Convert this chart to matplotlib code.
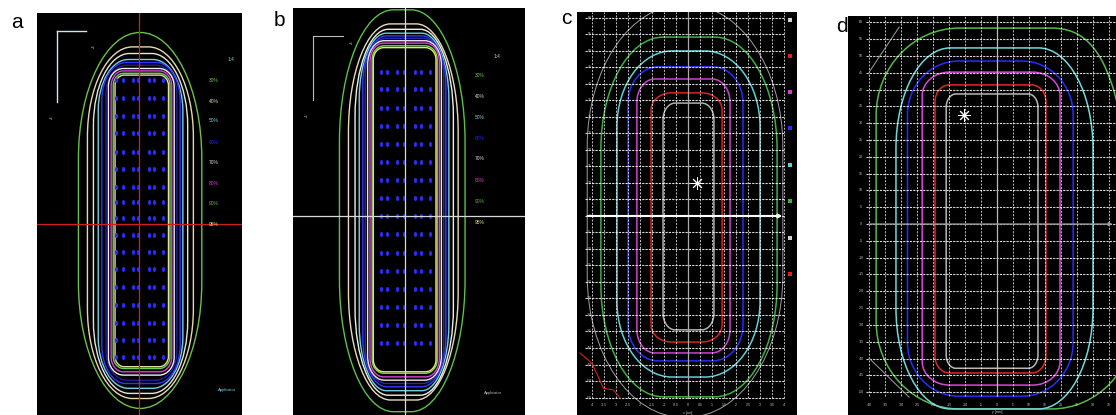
import matplotlib
matplotlib.use("Agg")
import matplotlib.pyplot as plt
from matplotlib.patches import PathPatch
from matplotlib.path import Path
from matplotlib.transforms import Affine2D

plt.rcParams['font.family'] = ['Liberation Sans', 'DejaVu Sans']

# ---------------- panel a : planned isodoses (mm) ----------------
a_left = [-20.2, -17.2, -15.2, -13.6, -12.4, -11.0, -10.2, -9.3, -8.6, -8.0]
a_right = [20.9, 18.1, 16.2, 14.6, 13.7, 12.6, 11.7, 10.9, 10.3, 9.8]
a_bottom = [-62.1, -58.8, -57.1, -55.4, -53.8, -52.7, -51.0, -49.9, -48.8, -48.2]
a_top = [63.2, 58.4, 56.2, 54.2, 53.2, 52.3, 51.2, 50.4, 49.6, 49.0]
a_rx = [20.5, 15, 12, 10, 8, 7, 5, 4, 3.5, 3]
a_ry = [42, 30, 24, 17, 12.7, 9.5, 6, 5, 4, 3.5]
a_colors = ['#6cc04a', '#e8d8b0', '#e6e6d8', '#6fd3e0', '#3333ff',
            '#2020a0', '#f0f0f0', '#e040e0', '#70d050', '#e0e0a0']
a_dot_x = [-7.7, -5.3, -2.0, -0.3, 3.3, 5.0, 8.0]
a_dot_y = [47.3, 41.3, 35.3, 29.7, 23.3, 17.7, 11.7, 6.7, 1.3, -4.3,
           -10.0, -15.7, -21.7, -27.7, -33.7, -39.3, -45.0]
a_leg_y = [47.3, 40.3, 33.7, 26.7, 19.7, 13.0, 6.3, -0.7]

# ---------------- panel b ----------------
b_left = [-21.2, -18.2, -16.0, -14.6, -13.4, -12.6, -11.8, -11.0, -10.3, -9.9]
b_right = [20.7, 18.4, 16.8, 15.3, 14.3, 13.6, 12.8, 12.1, 11.4, 11.0]
b_bottom = [-66.2, -62.3, -60.7, -59.2, -57.9, -56.8, -55.7, -54.6, -53.4, -52.9]
b_top = [67.7, 63.0, 61.2, 59.9, 59.0, 58.2, 57.4, 56.6, 55.7, 55.1]
b_rx = [18, 14, 11, 9, 8, 7, 5.5, 4.5, 4, 3.5]
b_ry = [44, 36, 29, 22, 16, 12, 8, 6, 4.5, 4]
b_colors = ['#5cc04a', '#e8dcb8', '#f0f0e8', '#70d0e0', '#3838ff',
            '#2828b0', '#e8e8e8', '#e040e0', '#70e040', '#e8e870']
b_dot_x = [-7.3, -5.3, -2.0, 0.3, 4.0, 6.0, 9.0]
b_dot_y = [47.1, 41.2, 35.1, 29.0, 23.0, 16.9, 11.0, 4.9, -1.0, -7.1,
           -13.2, -19.2, -25.3, -31.4, -37.3, -43.4]
b_leg_y = [45.7, 38.7, 31.7, 24.7, 18.0, 10.7, 3.7, -3.0]

leg_labels = ['30%', '40%', '50%', '60%', '70%', '80%', '90%', '95%']
leg_colors = ['#6ad04a', '#e0d8b0', '#80d0d8', '#2a2aff',
              '#e0e0e0', '#e040e0', '#60c040', '#e0e080']

# ---------------- panel c : measured (x in cm, y in mm) ----------------
c_left = [-3.63, -2.96, -2.50, -2.13, -1.54, -1.04]
c_right = [3.71, 3.00, 2.29, 1.75, 1.42, 1.08]
c_bottom = [-54.8, -48.8, -43.9, -41.5, -38.2, -34.5]
c_top = [54.2, 50.0, 45.2, 41.5, 37.3, 34.2]
c_rx = [2.6, 2.3, 1.25, 0.75, 0.85, 0.5]
c_ry = [34, 23, 11, 7, 5.2, 5]
iso_colors = ['#3cb043', '#5fd0d8', '#2a2aff', '#d040d0', '#e02020', '#b0b0b0']
c_outer = [-4.2, 3.95, -61.0, 64.0, 4.0, 43.0]
c_red_x = [-4.5, -4.01, -3.74, -3.53, -3.11, -2.83]
c_red_y = [-41.5, -44.6, -48.7, -52.2, -52.7, -55.2]
c_xticks = [-4, -3.5, -3, -2.5, -2, -1.5, -1, -0.5, 0, 0.5, 1, 1.5, 2, 2.5, 3, 3.5, 4]
c_yticks = [60, 55, 50, 45, 40, 35, 30, 25, 20, 15, 10, 5, 0,
            -5, -10, -15, -20, -25, -30, -35, -40, -45, -50, -55]
c_leg_y = [59.4, 48.5, 37.6, 26.7, 15.5, 4.5, -6.7, -17.6]
c_leg_colors = ['#d0d0d0', '#e02020', '#d040d0', '#2a2aff',
                '#5fd0d8', '#3cb043', '#d0d0d0', '#e02020']
c_star = (0.375, 10.0)

# ---------------- panel d : measured (mm) ----------------
d_left = [-37.8, -31.6, -28.0, -23.4, -19.4, -15.9]
d_right = [43.0, 30.0, 23.8, 19.7, 15.3, 12.8]
d_bottom = [-55.0, -55.0, -51.2, -47.9, -44.3, -42.9]
d_top = [58.3, 52.4, 48.5, 45.2, 41.4, 38.7]
d_rx = [26, 17, 16, 8.5, 4.5, 3]
d_ry = [26, 30, 16, 7, 5, 4]
d_colors = ['#58b84a', '#70d8d8', '#2a2aff', '#d848d8', '#e02828', '#b8b8b8']
d_gray1_x = [-40.0, -30.6]
d_gray1_y = [45.2, 58.6]
d_gray2_x = [-40.0, -27.5]
d_gray2_y = [-39.9, -51.5]
d_xticks = [-40, -35, -30, -25, -20, -15, -10, -5, 0, 5, 10, 15, 20, 25, 30, 35]
d_yticks = [60, 55, 50, 45, 40, 35, 30, 25, 20, 15, 10, 5, 0,
            -5, -10, -15, -20, -25, -30, -35, -40, -45, -50]
d_star = (-10.3, 32.4)

K = 0.5523  # cubic bezier factor for a quarter ellipse


def panel(rect, xlim, ylim):
    ax = fig.add_axes(rect)
    ax.set_facecolor('black')
    ax.set_xlim(*xlim)
    ax.set_ylim(*ylim)
    ax.set_xticks([])
    ax.set_yticks([])
    for s in ax.spines.values():
        s.set_visible(False)
    return ax


def box_path(l, r, b, t, rx, ry):
    # rectangle with quarter-ellipse corners
    verts = [(l + rx, b), (r - rx, b),
             (r - rx + K * rx, b), (r, b + ry - K * ry), (r, b + ry),
             (r, t - ry),
             (r, t - ry + K * ry), (r - rx + K * rx, t), (r - rx, t),
             (l + rx, t),
             (l + rx - K * rx, t), (l, t - ry + K * ry), (l, t - ry),
             (l, b + ry),
             (l, b + ry - K * ry), (l + rx - K * rx, b), (l + rx, b),
             (l + rx, b)]
    C, L = Path.CURVE4, Path.LINETO
    codes = [Path.MOVETO, L, C, C, C, L, C, C, C, L, C, C, C, L, C, C, C, Path.CLOSEPOLY]
    return Path(verts, codes)


def isodose(ax, left, right, bottom, top, rx, ry, colors, lw):
    for l, r, b, t, cx, cy, c in zip(left, right, bottom, top, rx, ry, colors):
        ax.add_patch(PathPatch(box_path(l, r, b, t, cx, cy), fill=False, ec=c, lw=lw))


dot = Path.unit_circle().transformed(Affine2D().scale(0.6, 1.0))

fig = plt.figure(figsize=(11.16, 4.15), dpi=100)
W, H = 1116, 415

# ---- a ----
ax = panel([37 / W, 0, 205 / W, 402 / H], (-34.0, 34.3), (-64.3, 69.7))
ax.axvline(0, color='#d02020', lw=0.9)
ax.axhline(-0.7, color='#d02020', lw=0.9)
isodose(ax, a_left, a_right, a_bottom, a_top, a_rx, a_ry, a_colors, 1.0)
ax.scatter([x for y in a_dot_y for x in a_dot_x],
           [y for y in a_dot_y for x in a_dot_x],
           marker=dot, s=14, color='#2b2bff', lw=0)
ax.plot([-27.3, -17.7], [63.7, 63.7], color='#c8e8f0', lw=1)
ax.plot([-27.3, -27.3], [63.7, 40.0], color='#c8e8f0', lw=1)
ax.text(-15, 58.7, '-4', color='#90d0e0', fontsize=3, ha='center', va='center', rotation=90)
ax.text(-29, 35, '-4', color='#90d0e0', fontsize=3, ha='center', va='center', rotation=90)
ax.text(30.7, 54.3, '1:4', color='#90d0e0', fontsize=3.5, ha='center', va='center')
for lab, col, y in zip(leg_labels, leg_colors, a_leg_y):
    ax.text(25, y, lab, color=col, fontsize=3.5, ha='center', va='center')
ax.text(29.3, -56, 'Applicator', color='#70d0e0', fontsize=3, ha='center', va='center')

# ---- b ----
ax = panel([293 / W, 0, 232 / W, 407 / H], (-36.7, 40.7), (-67.3, 68.3))
ax.axvline(0.67, color='#d8d8d8', lw=0.9)
ax.axhline(-1.0, color='#d8d8d8', lw=0.9)
isodose(ax, b_left, b_right, b_bottom, b_top, b_rx, b_ry, b_colors, 1.0)
ax.scatter([x for y in b_dot_y for x in b_dot_x],
           [y for y in b_dot_y for x in b_dot_x],
           marker=dot, s=14, color='#2b2bff', lw=0)
ax.plot([-30, -20], [59, 59], color='#bbbbbb', lw=0.8)
ax.plot([-30, -30], [59, 37.7], color='#bbbbbb', lw=0.8)
ax.text(-17, 57, '-4', color='#bbbbbb', fontsize=3, ha='center', va='center', rotation=90)
ax.text(-32, 32.7, '-4', color='#bbbbbb', fontsize=3, ha='center', va='center', rotation=90)
ax.text(31.3, 52, '1:4', color='#cccccc', fontsize=3.5, ha='center', va='center')
for lab, col, y in zip(leg_labels, leg_colors, b_leg_y):
    ax.text(25.7, y, lab, color=col, fontsize=3.5, ha='center', va='center')
ax.text(30, -60, 'Applicator', color='#bbbbbb', fontsize=3, ha='center', va='center')

# ---- c ----
ax = panel([577 / W, 0, 220 / W, 403 / H], (-4.625, 4.54), (-60.3, 61.8))
for y in c_yticks:
    ax.plot([-4.3, 4.0], [y, y], color='white', lw=0.8, ls=(0, (2, 1)), alpha=0.85)
    ax.text(-4.1, y, str(y), color='#cccccc', fontsize=2.5, ha='center', va='center')
for x in c_xticks:
    if x != 0:
        ax.plot([x, x], [-55, 61.8], color='white', lw=0.7, ls=(0, (2, 1.5)), alpha=0.75)
    ax.text(x, -57.3, f'{x:g}', color='#cccccc', fontsize=2.5, ha='center', va='center')
ax.text(0, -59.8, 'x [cm]', color='#cccccc', fontsize=2.5, ha='center', va='center')
ax.plot([0, 0], [-55, 61.8], color='#aaaaaa', lw=0.9)
ax.annotate('', xy=(4.05, 0), xytext=(-4.3, 0),
            arrowprops=dict(arrowstyle='-|>', color='white', lw=1.5, mutation_scale=5))
isodose(ax, [c_outer[0]], [c_outer[1]], [c_outer[2]], [c_outer[3]],
        [c_outer[4]], [c_outer[5]], ['#a0a0a0'], 0.7)
ax.plot(c_red_x, c_red_y, color='#d02020', lw=0.8)
isodose(ax, c_left, c_right, c_bottom, c_top, c_rx, c_ry, iso_colors, 1.1)
ax.scatter([4.25] * len(c_leg_y), c_leg_y, marker='s', s=8, c=c_leg_colors, lw=0)
ax.plot(*c_star, marker=(8, 2, 0), ms=9, color='white', mew=0.7)

# ---- d ----
ax = panel([848 / W, 0, 268 / W, 399 / H], (-46.6, 37.2), (-56.8, 61.9))
for y in d_yticks:
    ax.plot([-41, 37.2], [y, y], color='white', lw=0.8, ls=(0, (2, 1)), alpha=0.85)
    ax.text(-42.5, y, str(y), color='#cccccc', fontsize=2.5, ha='center', va='center')
for x in d_xticks:
    if x != 0:
        ax.plot([x, x], [-51, 61.9], color='white', lw=0.7, ls=(0, (2, 1.5)), alpha=0.75)
    ax.text(x, -53.8, f'{x:g}', color='#cccccc', fontsize=2.5, ha='center', va='center')
ax.text(0, -56, 'y [mm]', color='#cccccc', fontsize=2.5, ha='center', va='center')
ax.plot([0, 0], [-51, 61.9], color='#bbbbbb', lw=0.9)
ax.annotate('', xy=(37, 0), xytext=(-41, 0),
            arrowprops=dict(arrowstyle='-|>', color='#999999', lw=1.0, mutation_scale=5))
ax.plot(d_gray1_x, d_gray1_y, color='#a0a0a0', lw=0.7)
ax.plot(d_gray2_x, d_gray2_y, color='#a0a0a0', lw=0.7)
isodose(ax, d_left, d_right, d_bottom, d_top, d_rx, d_ry, d_colors, 1.1)
ax.plot(*d_star, marker=(8, 2, 0), ms=9, color='white', mew=0.7)

# panel letters
for lab, x, y in [('a', 17, 22), ('b', 279, 20), ('c', 566, 18), ('d', 842, 27)]:
    fig.text(x / W, 1 - y / H, lab, fontsize=15, ha='center', va='center', color='black')

fig.savefig('out.png', dpi=100, facecolor='white')
